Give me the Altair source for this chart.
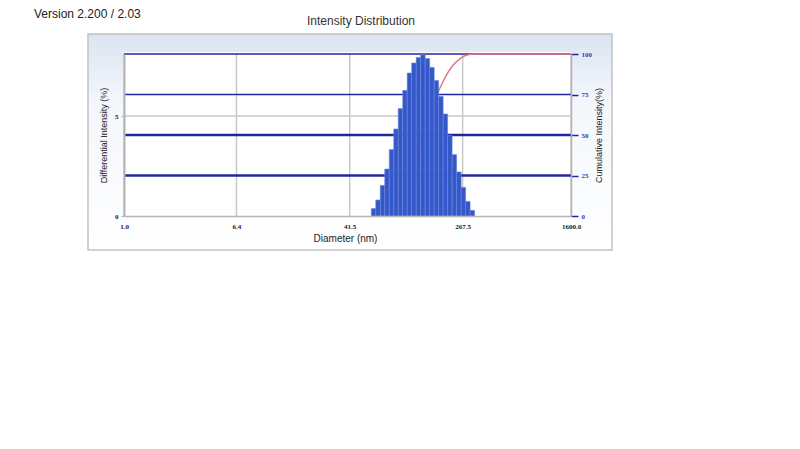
import altair as alt
import pandas as pd

# ---- data ----
diameters = [61.5, 66.2, 71.3, 76.8, 82.7, 89.1, 95.9, 103.3, 111.2, 119.8, 129.0, 138.9,
             149.6, 161.2, 173.5, 186.9, 201.2, 216.7, 233.4, 251.4, 270.7, 291.5, 313.9]
intensity = [0.37, 0.80, 1.53, 2.35, 3.32, 4.35, 5.37, 6.28, 7.15, 7.65, 7.93, 8.07,
             7.87, 7.43, 6.78, 5.98, 5.10, 4.03, 3.07, 2.20, 1.43, 0.73, 0.28]
cum_diam = [64.0, 68.8, 74.1, 79.8, 85.9, 92.5, 99.6, 107.2, 115.5, 124.4, 133.9, 144.2,
            155.3, 167.3, 180.1, 194.0, 208.9, 224.9, 242.2, 260.8, 280.9, 302.5, 325.8, 1600.0]
cumulative = [0.4, 1.2, 2.7, 5.1, 8.4, 12.7, 18.1, 24.4, 31.5, 39.2, 47.1, 55.2,
              63.0, 70.5, 77.3, 83.2, 88.3, 92.4, 95.4, 97.6, 99.1, 99.8, 100.0, 100.0]
x_ticks = [1.0, 6.4, 41.5, 267.5, 1600.0]
left_ticks = [0, 5]
right_ticks = [0, 25, 50, 75, 100]
cum_levels = [25, 50, 75, 100]

W, H = 447, 162
FONT = "Liberation Sans"
NAVY = "#2424a0"
GRAY = "#b4b4b4"

bars_df = pd.DataFrame({"d": diameters, "v": intensity})
cum_df = pd.DataFrame({"d": cum_diam, "c": cumulative})

xscale = alt.Scale(type="log", domain=[1, 1600], nice=False)
xaxis = alt.Axis(values=x_ticks, format=".1f", ticks=False, grid=False, labelPadding=6,
                 labelFont="Liberation Serif", labelFontWeight="bold", labelFontSize=7,
                 labelColor="#222", labelFlush=False, labelOverlap=False,
                 domainColor=GRAY, domainWidth=1.5, zindex=1,
                 title="Diameter (nm)", titleFont=FONT, titleFontSize=10, titleFontWeight="normal",
                 titleColor="#222", titleX=221, titleY=22, titleBaseline="middle")
lscale = alt.Scale(domain=[0, 8.1], nice=False, zero=True)
laxis = alt.Axis(values=left_ticks, orient="left", grid=False, tickColor=GRAY, tickSize=3,
                 labelPadding=3, labelFont="Liberation Serif", labelFontWeight="bold",
                 labelFontSize=7, labelColor="#222", domainColor=GRAY, domainWidth=2, zindex=1,
                 title="Differential Intensity (%)", titleFont=FONT, titleFontSize=9,
                 titleFontWeight="normal", titleColor="#222", titleX=-21, titleY=H / 2,
                 titleBaseline="middle", titleAlign="center")
rscale = alt.Scale(domain=[0, 100], nice=False, zero=True)
raxis = alt.Axis(values=right_ticks, orient="right", grid=False, tickColor=NAVY, tickSize=7,
                 tickWidth=1.5, labelPadding=3, labelFont="Liberation Serif",
                 labelFontWeight="bold", labelFontSize=7, labelColor="#3a3ab0",
                 domainColor=GRAY, domainWidth=1.5, zindex=1,
                 title="Cumulative Intensity(%)", titleFont=FONT, titleFontSize=9,
                 titleFontWeight="normal", titleColor="#222", titleAngle=270,
                 titleX=27, titleY=H / 2, titleBaseline="middle", titleAlign="center")

one = alt.Data(values=[{}])

panel = alt.Chart(one).mark_rect(
    color=alt.LinearGradient(gradient="linear", x1=0, x2=0, y1=0, y2=1,
                             stops=[alt.GradientStop(color="#dbe4f2", offset=0),
                                    alt.GradientStop(color="#f3f6fb", offset=0.3),
                                    alt.GradientStop(color="#ffffff", offset=1)]),
    stroke="#c2c2c2", strokeWidth=1.5
).encode(x=alt.value(-36), x2=alt.value(488), y=alt.value(-20), y2=alt.value(196))

plotbg = alt.Chart(one).mark_rect(color="white").encode(
    x=alt.value(0), x2=alt.value(W), y=alt.value(-2), y2=alt.value(H))

version = alt.Chart(one).mark_text(align="left", baseline="middle", font=FONT,
                                   fontSize=12, color="#222").encode(
    x=alt.value(-90), y=alt.value(-40), text=alt.value("Version 2.200 / 2.03"))

title = alt.Chart(one).mark_text(align="center", baseline="middle", font=FONT,
                                 fontSize=12, color="#333").encode(
    x=alt.value(237), y=alt.value(-33), text=alt.value("Intensity Distribution"))

vgrid = alt.Chart(pd.DataFrame({"t": x_ticks})).mark_rule(color="#c8c8c8", strokeWidth=1.5).encode(
    x=alt.X("t:Q", scale=xscale, axis=xaxis))

# right-scale group
blue_rules = alt.Chart(pd.DataFrame({"level": cum_levels})).mark_rule(color=NAVY).encode(
    y=alt.Y("level:Q", scale=rscale, axis=raxis),
    strokeWidth=alt.condition("datum.level >= 75", alt.value(1.3), alt.value(2.3)))
cum_line = alt.Chart(cum_df).mark_line(color="#e27585", strokeWidth=1.5).encode(
    x=alt.X("d:Q", scale=xscale, axis=xaxis),
    y=alt.Y("c:Q", scale=rscale, axis=raxis))
right_group = alt.layer(blue_rules, cum_line)

# left-scale group
hgrid = alt.Chart(pd.DataFrame({"t": left_ticks[1:]})).mark_rule(color="#c8c8c8", strokeWidth=1.5).encode(
    y=alt.Y("t:Q", scale=lscale, axis=laxis))
bars = alt.Chart(bars_df).transform_calculate(
    lo="datum.d / 1.0378", hi="datum.d * 1.0378"
).mark_rect(color="#3457c9", stroke="#6a86dc", strokeWidth=0.6).encode(
    x=alt.X("lo:Q", scale=xscale, axis=xaxis),
    x2="hi:Q",
    y=alt.Y("v:Q", scale=lscale, axis=laxis),
    y2=alt.datum(0))
left_group = alt.layer(hgrid, bars)

chart = alt.layer(panel, plotbg, version, title, vgrid, right_group, left_group).resolve_scale(
    y="independent").resolve_axis(y="independent").properties(
    width=W, height=H,
    autosize=alt.AutoSizeParams(type="none"),
    padding={"left": 116, "top": 46, "right": 200, "bottom": 200},
    background="white"
).configure_view(stroke=None)

chart.save("out.html", embed_options={"renderer": "svg", "actions": False})
